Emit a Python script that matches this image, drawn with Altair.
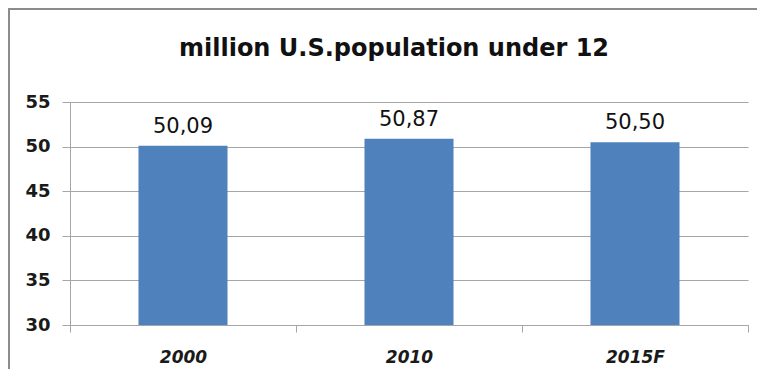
import altair as alt
import pandas as pd

years = ["2000", "2010", "2015F"]
values = [50.09, 50.87, 50.50]
labels = ["50,09", "50,87", "50,50"]
y_ticks = [30, 35, 40, 45, 50, 55]

df = pd.DataFrame({"year": years, "value": values, "label": labels})

W, H = 678, 223
PAD = {"left": 62, "top": 94, "right": 9, "bottom": 44}
FONT = "DejaVu Sans"
GRAY = "#a6a6a6"

base = alt.Chart(df)

x_enc = alt.X(
    "year:N",
    sort=years,
    scale=alt.Scale(paddingInner=0, paddingOuter=0),
    axis=alt.Axis(
        title=None,
        labelAngle=0,
        labelFont=FONT,
        labelFontSize=17,
        labelFontWeight="bold",
        labelFontStyle="italic",
        labelColor="#1a1a1a",
        labelPadding=17,
        tickBand="extent",
        tickSize=7,
        tickColor=GRAY,
        domainColor=GRAY,
        grid=False,
    ),
)

y_enc = alt.Y(
    "value:Q",
    scale=alt.Scale(domain=[30, 55], nice=False, zero=False),
    axis=alt.Axis(
        title=None,
        values=y_ticks,
        labelFont=FONT,
        labelFontSize=18,
        labelFontWeight="bold",
        labelColor="#1a1a1a",
        labelPadding=12,
        tickSize=8,
        tickColor=GRAY,
        domainColor=GRAY,
        gridColor=GRAY,
    ),
)

bars = base.mark_bar(width={"band": 0.394}, color="#4f81bd", clip=True).encode(
    x=x_enc, y=y_enc, y2=alt.datum(30)
)

text = base.mark_text(
    font=FONT, fontSize=21, color="#111111", baseline="alphabetic", dy=-13
).encode(x=alt.X("year:N", sort=years), y="value:Q", text="label:N")

# frame lines (top and left edges of the chart box), kept inside the svg
frame_top = base.mark_rule(stroke="#8c8c8c", strokeWidth=2).encode(
    x=alt.value(-61), x2=alt.value(W + PAD["right"]), y=alt.value(-93)
)
frame_left = base.mark_rule(stroke="#8c8c8c", strokeWidth=2).encode(
    x=alt.value(-61), y=alt.value(-94), y2=alt.value(H + PAD["bottom"])
)

chart = (
    alt.layer(frame_top, frame_left, bars, text)
    .properties(
        width=W,
        height=H,
        title=alt.TitleParams(
            "million U.S.population under 12",
            font=FONT,
            fontSize=24,
            fontWeight="bold",
            color="#111111",
            anchor="middle",
            baseline="alphabetic",
            dx=-15,
            offset=-73,
        ),
        autosize=alt.AutoSizeParams(type="none"),
        padding=PAD,
    )
    .configure_view(stroke=None)
)

chart.save("out.html", embed_options={"renderer": "svg", "actions": False})
